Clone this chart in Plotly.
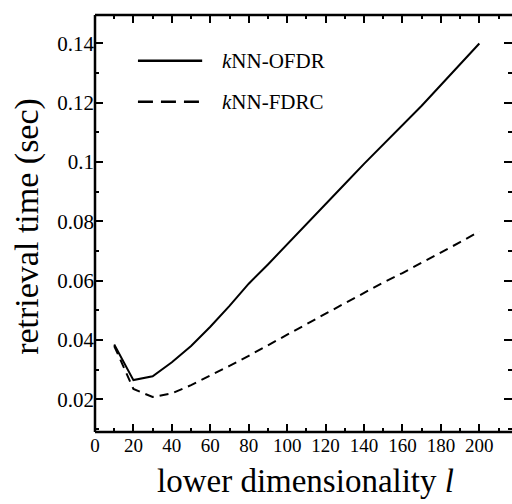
import plotly.graph_objects as go

dims = [10, 20, 30, 40, 50, 60, 70, 80, 90, 100, 110, 120, 130, 140, 150, 160, 170, 180, 190, 200]
ofdr = [0.0385, 0.0265, 0.0278, 0.0325, 0.038, 0.0445, 0.0515, 0.059, 0.0655, 0.0722, 0.0790,
        0.0858, 0.0926, 0.0994, 0.1060, 0.1126, 0.1190, 0.1260, 0.1330, 0.1400]
fdrc = [0.0380, 0.0235, 0.0208, 0.0220, 0.0248, 0.0280, 0.0313, 0.0347, 0.0383, 0.0418, 0.0454,
        0.0489, 0.0524, 0.0559, 0.0594, 0.0626, 0.0660, 0.0695, 0.0730, 0.0766]

x_ticks = [0, 20, 40, 60, 80, 100, 120, 140, 160, 180, 200]
y_ticks = [0.02, 0.04, 0.06, 0.08, 0.1, 0.12, 0.14]
y_tick_text = ["0.02", "0.04", "0.06", "0.08", "0.1", "0.12", "0.14"]
series_names = ["<i>k</i>NN-OFDR", "<i>k</i>NN-FDRC"]

FONT = "Liberation Serif, Times New Roman, serif"

fig = go.Figure()
fig.add_trace(go.Scatter(x=dims, y=ofdr, mode="lines", name=series_names[0],
                         line=dict(color="black", width=2), showlegend=False))
fig.add_trace(go.Scatter(x=dims, y=fdrc, mode="lines", name=series_names[1],
                         line=dict(color="black", width=2, dash="9px,6px"), showlegend=False))

# frame: left, bottom, top (right edge falls at the picture border)
for x0, x1, y0, y1 in [(0, 0, 0, 1), (0, 1, 0, 0), (0, 1, 1, 1)]:
    fig.add_shape(type="line", xref="paper", yref="paper", x0=x0, x1=x1, y0=y0, y1=y1,
                  line=dict(color="black", width=2.5), layer="above")

# manual legend
legend_y = [0.890, 0.792]
dashes = ["solid", "15px,8px"]
for name, ly, d in zip(series_names, legend_y, dashes):
    fig.add_shape(type="line", xref="paper", yref="paper", x0=0.103, x1=0.257, y0=ly, y1=ly,
                  line=dict(color="black", width=2.5, dash=d))
    fig.add_annotation(xref="paper", yref="paper", x=0.30, y=ly, text=name, showarrow=False,
                       xanchor="left", yanchor="middle",
                       font=dict(family=FONT, size=21, color="black"))

# axis titles
fig.add_annotation(xref="paper", yref="paper", x=-0.163, y=0.492, text="retrieval time (sec)",
                   textangle=-90, showarrow=False, xanchor="center", yanchor="middle",
                   font=dict(family=FONT, size=34, color="black"))
fig.add_annotation(xref="paper", yref="paper", x=0.504, y=-0.1655, text="lower dimensionality <i>l</i>",
                   showarrow=False, xanchor="center", yanchor="bottom",
                   font=dict(family=FONT, size=33, color="black"))

axis_common = dict(showline=False, mirror="allticks",
                   ticks="inside", tickcolor="black", tickwidth=2, ticklen=8,
                   showgrid=False, zeroline=False)

fig.update_xaxes(range=[0, 217], tickvals=x_ticks,
                 tickfont=dict(family=FONT, size=19, color="black"),
                 minor=dict(ticks="inside", ticklen=4, tickwidth=1.5, tickcolor="black", dtick=10, tick0=0),
                 **axis_common)
fig.update_yaxes(range=[0.009, 0.1496], tickvals=y_ticks, ticktext=y_tick_text,
                 tickfont=dict(family=FONT, size=21, color="black"),
                 minor=dict(ticks="inside", ticklen=4, tickwidth=1.5, tickcolor="black", dtick=0.01, tick0=0),
                 **axis_common)

fig.update_layout(width=512, height=504, margin=dict(l=95, r=0, t=15, b=72),
                  plot_bgcolor="white", paper_bgcolor="white")

fig.write_html("out.html", config={"displayModeBar": False},
               post_script="document.body.style.margin='0';")
